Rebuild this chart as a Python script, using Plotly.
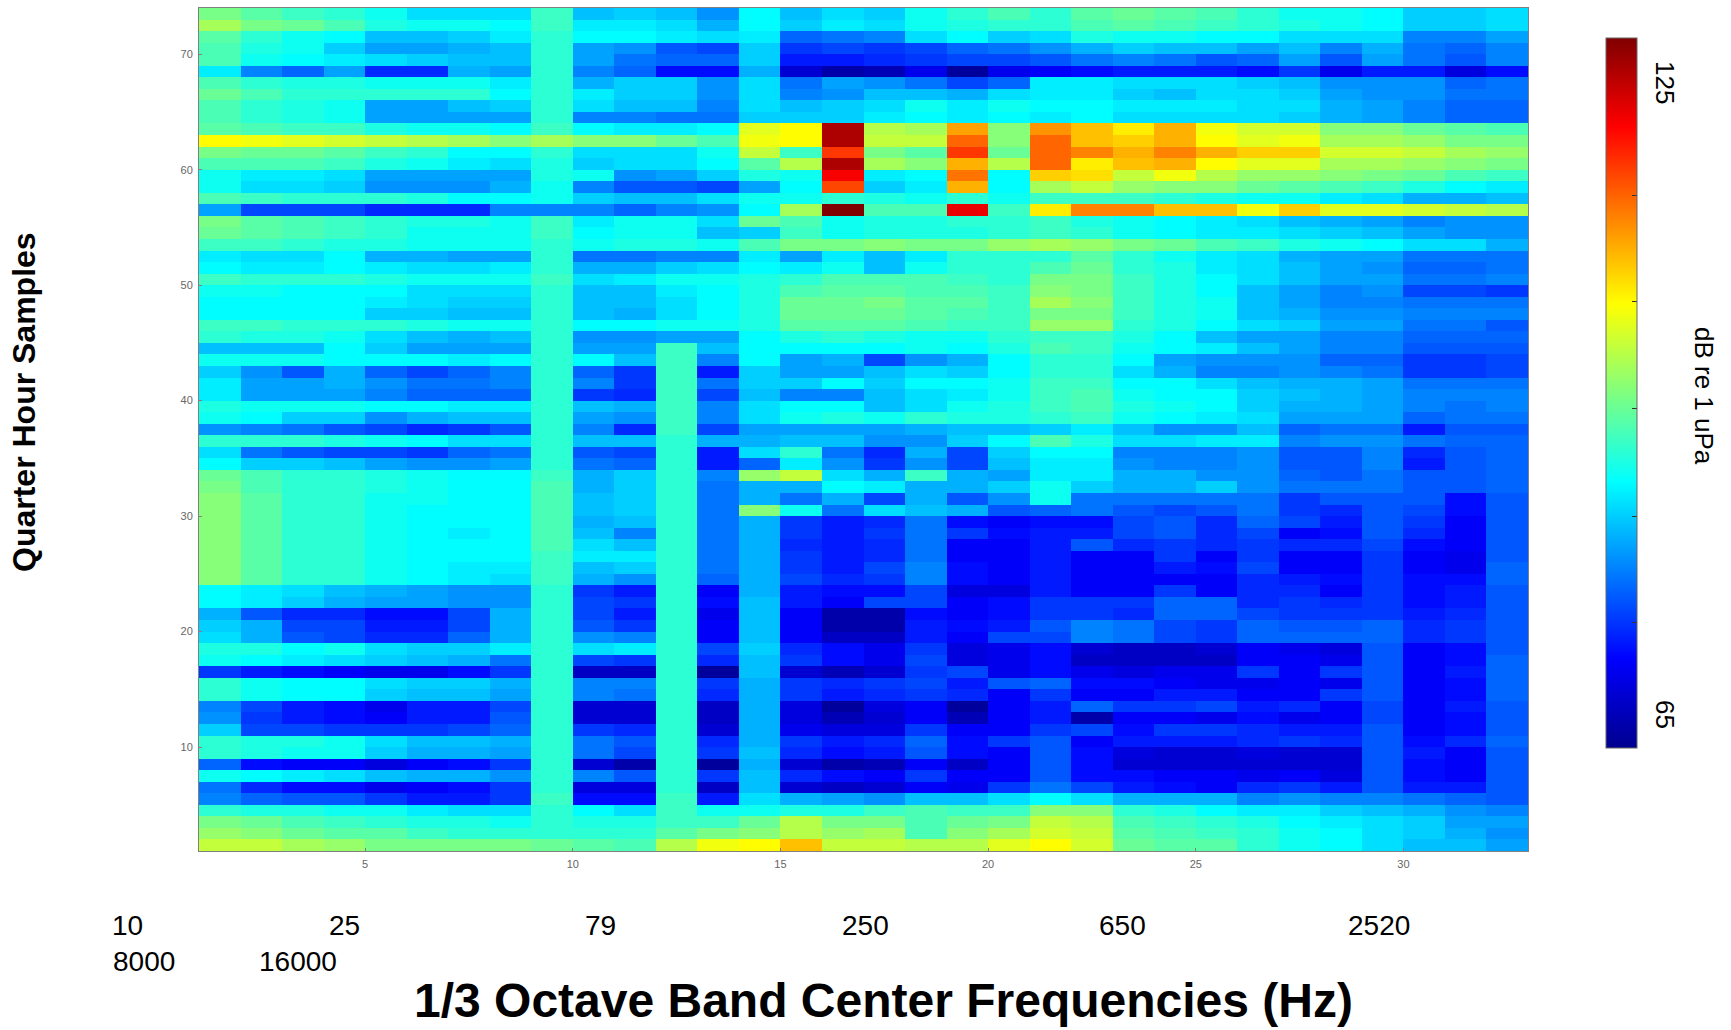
import plotly.graph_objects as go

W, H = 1731, 1030

# dB re 1 uPa, one list per quarter-hour sample, 32 frequency bands
q73 = [95,93,91,90,88,85,85,85,91,83,84,83,80,87,83,85,84,88,90,92,90,93,94,93,92,90,88,88,87,84,84,85]
q72 = [98,95,94,92,89,88,88,87,91,86,86,85,82,87,84,86,85,88,89,90,90,92,93,92,91,90,89,88,87,84,84,85]
q71 = [93,90,88,87,83,83,84,86,90,87,87,86,85,86,77,78,79,85,87,84,85,89,88,88,87,87,85,85,85,79,79,81]
q70 = [92,89,88,84,81,81,82,83,90,81,80,76,75,84,74,75,74,75,77,78,80,82,84,83,83,81,83,79,82,78,77,79]
q69 = [92,88,87,86,85,84,83,83,90,81,78,77,77,84,72,72,73,74,75,75,76,78,79,78,76,77,81,76,81,78,76,79]
q68 = [86,79,77,81,73,73,82,81,90,79,77,71,71,82,67,64,65,69,63,69,70,71,72,72,72,71,74,69,72,72,68,71]
q67 = [92,90,89,89,88,88,88,86,90,82,84,84,80,85,78,81,80,78,75,77,86,86,85,85,85,84,83,80,80,80,77,78]
q66 = [94,92,90,90,90,90,90,87,90,86,84,84,80,85,79,80,83,83,82,85,86,86,84,83,85,85,84,81,80,80,78,78]
q65 = [92,90,89,88,81,81,83,84,90,85,83,83,79,85,83,84,85,88,86,88,87,87,86,86,86,85,85,82,81,79,77,77]
q64 = [92,90,89,88,81,81,81,81,90,79,79,78,78,84,84,84,86,87,86,87,86,87,85,85,85,85,84,82,81,79,77,77]
q63 = [93,92,91,91,89,88,88,87,91,87,86,86,87,102,104,126,99,98,110,96,111,108,105,109,103,101,101,96,96,94,93,92]
q62 = [104,103,102,101,100,99,98,96,98,96,96,94,92,103,104,126,100,100,114,96,114,108,107,109,104,102,103,98,98,97,95,95]
q61 = [95,94,94,93,91,90,87,87,90,85,85,85,88,100,91,117,95,93,117,94,114,112,109,112,109,107,107,101,101,100,98,97]
q60 = [92,92,92,91,89,88,86,85,89,84,85,85,87,93,99,126,98,96,109,99,114,105,108,109,104,102,102,98,98,97,96,95]
q59 = [88,86,86,85,81,81,81,81,89,88,80,81,84,89,88,121,86,87,113,87,107,106,100,103,99,97,97,96,95,94,92,91]
q58 = [88,85,85,84,80,80,80,82,88,79,76,76,75,81,87,116,84,86,109,87,98,100,97,96,96,94,93,92,91,89,87,86]
q57 = [92,91,90,90,90,89,87,87,88,84,83,83,85,88,88,90,89,88,90,88,91,91,91,90,89,88,88,86,85,82,82,83]
q56 = [81,75,75,75,73,73,73,79,79,79,77,79,80,87,98,129,92,92,122,91,105,112,112,108,108,103,107,102,102,101,100,99]
q55 = [95,93,92,91,90,89,89,88,91,86,88,88,85,94,92,88,89,89,90,90,91,89,88,87,86,85,83,82,81,79,80,80]
q54 = [94,93,92,91,90,88,88,88,91,87,88,88,83,84,91,88,89,89,89,90,91,90,88,87,86,86,85,84,83,81,80,80]
q53 = [91,91,90,89,89,88,88,88,90,88,89,89,88,92,95,95,96,95,95,97,98,97,95,94,92,91,89,88,87,85,85,82]
q52 = [86,85,85,87,82,82,81,81,90,78,78,79,79,86,81,86,83,86,90,90,90,93,90,88,86,85,82,81,81,78,78,78]
q51 = [87,86,86,87,86,85,85,86,90,82,82,84,85,87,86,88,83,88,90,90,92,94,90,89,86,85,83,81,80,77,77,78]
q50 = [91,90,90,90,89,88,88,88,91,85,86,88,88,89,90,92,92,92,91,90,95,95,91,89,87,85,83,81,81,78,78,79]
q49 = [88,88,87,87,87,85,85,85,90,83,83,86,87,89,92,93,93,92,92,91,96,95,91,89,87,83,81,79,80,75,75,74]
q48 = [87,87,87,87,86,85,84,84,90,83,83,85,87,89,94,94,95,93,93,91,98,96,91,89,88,83,81,79,79,78,78,78]
q47 = [87,87,87,87,84,84,83,83,90,83,82,85,87,89,94,94,94,93,92,91,95,95,91,89,88,83,82,80,80,79,79,79]
q46 = [91,91,90,90,90,89,88,88,90,87,87,88,88,89,93,93,93,92,91,91,97,97,90,89,87,85,84,81,81,78,78,76]
q45 = [90,89,89,88,85,83,82,83,90,80,80,81,81,87,89,90,89,88,88,90,91,91,89,87,83,81,81,79,79,77,77,77]
q44 = [83,83,83,87,84,81,81,81,90,81,81,91,83,87,87,87,87,88,87,89,92,91,88,87,86,83,81,79,79,76,76,76]
q43 = [88,88,88,87,87,87,86,87,90,87,83,91,79,87,81,82,75,80,82,87,90,90,87,81,80,80,80,77,77,74,74,75]
q42 = [84,80,76,82,77,75,77,79,90,77,74,91,72,84,81,81,83,85,84,87,90,90,85,82,79,79,80,79,78,74,74,75]
q41 = [86,81,81,82,80,78,78,79,90,79,74,91,78,84,84,87,84,87,87,88,91,91,87,87,85,83,82,82,81,78,78,78]
q40 = [86,81,81,81,79,77,77,77,90,74,73,91,75,83,79,79,83,85,86,88,91,92,88,87,87,84,83,82,81,79,79,79]
q39 = [89,88,88,88,87,87,86,86,90,83,82,91,79,85,87,87,83,85,88,89,91,92,89,88,87,84,82,82,81,79,78,79]
q38 = [88,87,84,84,80,82,83,83,90,81,80,91,79,85,88,89,88,90,89,89,90,91,88,87,86,85,81,81,81,77,78,78]
q37 = [80,79,78,76,75,73,74,76,90,79,73,91,75,81,81,81,81,82,83,83,84,86,83,80,80,83,77,78,78,72,76,76]
q36 = [90,90,90,89,88,87,85,85,90,83,83,90,82,82,83,83,80,80,84,87,92,89,85,85,86,86,79,80,80,78,77,77]
q35 = [85,78,76,75,75,74,77,78,90,76,75,90,72,85,90,78,73,82,75,84,87,87,79,79,79,80,76,76,79,73,76,77]
q34 = [87,84,84,83,81,80,80,81,90,78,77,90,72,77,86,80,74,80,75,83,86,86,80,79,79,80,76,76,79,72,76,77]
q33 = [94,92,90,90,89,88,87,87,91,82,84,90,79,97,100,85,82,91,82,81,86,86,82,82,80,80,77,76,78,76,76,77]
q32 = [95,92,90,90,89,88,87,87,92,82,84,90,78,82,82,87,86,82,82,84,88,84,82,82,84,80,78,78,78,76,76,77]
q31 = [96,93,90,90,88,88,87,87,92,83,84,90,78,82,78,82,75,82,76,80,88,78,78,78,78,78,74,76,76,76,71,76]
q30 = [96,93,90,90,88,87,87,87,92,83,84,90,78,96,88,78,85,83,82,76,77,78,76,75,76,78,74,73,76,75,71,76]
q29 = [96,93,90,90,88,87,87,87,92,82,83,90,78,82,74,72,73,78,71,70,71,71,75,76,73,77,75,72,76,74,70,76]
q28 = [96,93,90,90,88,87,86,87,92,83,79,90,78,82,74,72,74,78,74,71,72,72,75,76,73,75,70,71,76,73,70,76]
q27 = [96,93,90,90,88,87,87,87,92,85,83,90,78,82,73,72,73,78,70,70,72,76,73,74,73,74,73,73,75,71,70,76]
q26 = [96,93,90,90,88,87,87,87,91,86,86,90,78,82,74,72,73,78,70,70,72,70,70,74,70,74,70,70,74,70,69,76]
q25 = [96,93,90,90,88,87,86,86,91,83,84,90,78,82,74,72,75,79,71,70,72,70,70,72,71,75,70,70,74,70,69,77]
q24 = [96,93,90,90,88,87,86,85,91,82,80,90,77,82,75,73,74,79,71,70,72,70,70,70,70,73,72,71,74,71,71,77]
q23 = [87,86,85,83,82,81,80,80,90,74,72,90,70,82,72,71,71,75,68,68,72,70,70,74,70,73,73,70,74,71,72,76]
q22 = [87,86,84,82,81,81,80,80,90,75,74,90,71,83,72,70,75,75,70,71,74,74,74,77,77,73,74,73,74,71,72,76]
q21 = [82,76,73,73,71,71,75,82,90,75,72,90,69,83,70,64,64,71,70,71,74,74,73,77,77,75,74,74,74,72,73,76]
q20 = [84,82,75,75,72,72,75,82,90,76,74,90,70,83,70,64,64,72,71,72,76,79,78,75,74,77,76,76,77,73,74,76]
q19 = [85,82,76,75,73,73,77,82,90,80,79,90,70,83,70,66,66,72,70,75,75,79,78,75,74,77,77,77,77,73,74,76]
q18 = [89,89,87,88,85,84,84,86,90,85,86,90,75,84,73,71,69,74,68,69,71,67,66,66,67,70,69,68,76,70,71,76]
q17 = [88,87,86,85,84,83,82,78,90,75,74,90,73,83,74,71,69,75,68,69,71,66,66,66,66,70,70,69,76,70,71,77]
q16 = [74,72,71,70,69,69,71,74,90,66,66,90,63,83,67,65,67,74,75,69,71,69,68,69,69,74,70,74,76,70,72,77]
q15 = [90,88,87,87,85,84,84,82,90,79,79,90,74,82,74,73,74,75,72,76,77,71,71,70,69,69,70,69,76,70,71,77]
q14 = [90,88,87,87,84,83,83,81,90,79,78,90,73,82,74,72,73,74,73,70,74,70,70,72,72,70,70,74,76,70,71,77]
q13 = [79,75,72,71,69,72,72,75,90,67,67,90,66,82,68,63,68,70,63,70,72,77,74,74,75,72,73,70,75,70,72,76]
q12 = [80,74,72,71,70,72,72,76,90,67,67,90,66,82,68,65,67,70,65,70,72,64,70,70,69,71,69,70,75,70,71,76]
q11 = [84,75,75,74,74,74,75,77,90,74,73,90,67,82,69,68,68,74,70,70,74,75,71,74,74,73,72,72,76,70,71,76]
q10 = [90,89,89,88,85,83,83,82,90,78,76,90,73,82,74,72,73,77,71,74,76,70,72,72,72,73,74,73,76,71,73,77]
q09 = [90,89,88,88,84,82,82,81,90,78,75,90,74,83,73,71,72,76,71,70,76,71,68,67,67,68,67,67,76,72,70,76]
q08 = [77,71,70,70,68,70,71,74,90,67,64,90,63,82,67,64,65,70,66,70,76,71,67,67,67,67,67,67,76,71,70,76]
q07 = [88,87,86,85,83,82,82,80,90,79,76,90,74,83,73,71,70,74,70,70,76,71,71,70,70,69,70,68,76,71,70,76]
q06 = [78,73,71,71,69,70,71,74,90,68,68,90,66,83,67,66,67,70,69,74,78,75,72,71,70,73,74,72,76,72,72,76]
q05 = [79,77,76,76,74,72,72,74,91,71,71,91,72,85,82,81,80,83,83,85,87,85,82,82,82,79,80,79,79,78,77,76]
q04 = [90,89,89,88,88,86,85,85,90,87,85,91,88,88,89,89,91,92,91,91,96,96,90,89,87,86,86,84,83,82,80,79]
q03 = [95,94,92,91,90,89,89,88,90,89,89,91,91,94,99,95,95,92,94,95,100,99,92,91,90,89,87,86,85,84,81,81]
q02 = [97,96,94,93,93,91,90,90,90,90,90,93,95,96,99,97,98,92,96,98,101,100,93,92,91,90,88,87,85,84,82,80]
q01 = [100,100,98,97,95,95,95,95,94,93,92,99,103,104,108,100,100,99,99,102,104,101,94,93,93,90,88,87,85,83,83,81]

levels = [
    q01, q02, q03, q04, q05, q06, q07, q08, q09, q10, q11, q12, q13, q14, q15, q16, q17, q18, q19, q20,
    q21, q22, q23, q24, q25, q26, q27, q28, q29, q30, q31, q32, q33, q34, q35, q36, q37, q38, q39, q40,
    q41, q42, q43, q44, q45, q46, q47, q48, q49, q50, q51, q52, q53, q54, q55, q56, q57, q58, q59, q60,
    q61, q62, q63, q64, q65, q66, q67, q68, q69, q70, q71, q72, q73,
]
band_edges = list(range(1, 34))
sample_edges = list(range(1, 75))

band_ticks = [5, 10, 15, 20, 25, 30]
sample_ticks = [10, 20, 30, 40, 50, 60, 70]
colorbar_marks = [73.8, 83.8, 94, 104.1, 114.1]

jet = [
    [0.0, "rgb(0,0,143)"], [0.125, "rgb(0,0,255)"], [0.375, "rgb(0,255,255)"],
    [0.625, "rgb(255,255,0)"], [0.875, "rgb(255,0,0)"], [1.0, "rgb(128,0,0)"],
]

fig = go.Figure(go.Heatmap(
    z=levels, x=band_edges, y=sample_edges, zmin=62, zmax=129, colorscale=jet,
    zsmooth=False, hoverongaps=False,
    colorbar=dict(
        x=1606 / W, xanchor="left", y=1 - 38 / H, yanchor="top",
        len=710, lenmode="pixels", thickness=31, thicknessmode="pixels",
        xpad=0, ypad=0, outlinewidth=1, outlinecolor="#666666",
        tickmode="array", tickvals=colorbar_marks, ticks="inside", ticklen=5,
        tickcolor="#333333", showticklabels=False,
    ),
))

grey = "#808080"
tickfont = dict(family="Liberation Sans", size=11, color="#666666")
fig.update_xaxes(
    range=[1, 33], domain=[199 / W, 1528 / W], tickvals=band_ticks, ticks="inside", ticklen=3,
    tickcolor=grey, tickfont=tickfont, showline=True, linecolor=grey, mirror=True, showgrid=False,
    zeroline=False, ticklabelstandoff=3,
)
fig.update_yaxes(
    range=[1, 74], domain=[1 - 851 / H, 1 - 8 / H], tickvals=sample_ticks, ticks="inside", ticklen=3,
    tickcolor=grey, tickfont=tickfont, showline=True, linecolor=grey, mirror=True, showgrid=False,
    zeroline=False, ticklabelstandoff=3,
)


def note(text, px, py, size, angle=0, bold=False):
    fig.add_annotation(
        x=px / W, y=1 - py / H, xref="paper", yref="paper", text=f"<b>{text}</b>" if bold else text,
        showarrow=False, textangle=angle, xanchor="center", yanchor="middle",
        font=dict(family="Liberation Sans", size=size, color="black"),
    )


for label, px, py in [
    ("10", 127, 925), ("25", 344, 925), ("79", 600, 925), ("250", 865, 925),
    ("650", 1122, 925), ("2520", 1379, 925), ("8000", 144, 961), ("16000", 298, 961),
]:
    note(label, px, py, 28)

note("1/3 Octave Band Center Frequencies (Hz)", 883, 1000, 48, bold=True)
note("Quarter Hour Samples", 24, 402, 32, angle=-90, bold=True)
note("125", 1665, 82, 26, angle=90)
note("65", 1665, 714, 26, angle=90)
note("dB re 1 uPa", 1704, 396, 26, angle=90)

fig.update_layout(
    width=W, height=H, margin=dict(l=0, r=0, t=0, b=0), paper_bgcolor="white", plot_bgcolor="white",
)
fig.write_html(
    "out.html",
    config={"displayModeBar": False},
    post_script="document.body.style.margin='0';document.documentElement.style.overflow='hidden';",
)
